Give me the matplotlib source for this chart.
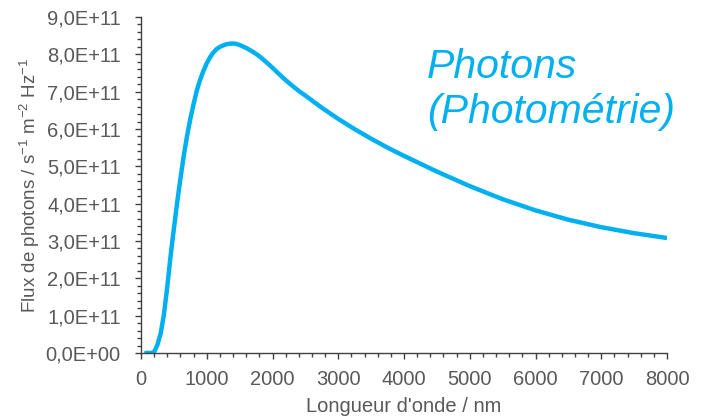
import matplotlib
matplotlib.use("Agg")
import matplotlib.pyplot as plt
from matplotlib.ticker import MultipleLocator, FuncFormatter

plt.rcParams["font.family"] = ["Liberation Sans", "DejaVu Sans"]
plt.rcParams["mathtext.fontset"] = "custom"
plt.rcParams["mathtext.rm"] = "Liberation Sans"

# Wavelength (nm) and photon flux (s^-1 m^-2 Hz^-1)
wavelength = [50, 100, 150, 200, 250, 300, 350, 400, 450, 500, 550, 600,
              650, 700, 750, 800, 850, 900, 950, 1000, 1050, 1100, 1150,
              1200, 1250, 1300, 1350, 1400, 1450, 1500, 1600, 1700, 1800,
              1900, 2000, 2100, 2200, 2300, 2400, 2500, 2750, 3000, 3250,
              3500, 3750, 4000, 4500, 5000, 5500, 6000, 6500, 7000, 7500,
              8000]
flux = [0.0, 0.0, 0.0, 0.03e11, 0.22e11, 0.53e11, 1.05e11, 1.78e11,
        2.6e11, 3.33e11, 4.03e11, 4.68e11, 5.28e11, 5.81e11, 6.27e11,
        6.67e11, 7.04e11, 7.32e11, 7.56e11, 7.76e11, 7.92e11, 8.05e11,
        8.14e11, 8.2e11, 8.24e11, 8.27e11, 8.285e11, 8.29e11, 8.28e11,
        8.25e11, 8.17e11, 8.07e11, 7.95e11, 7.8e11, 7.64e11, 7.47e11,
        7.31e11, 7.16e11, 7.02e11, 6.895e11, 6.57e11, 6.27e11, 5.995e11,
        5.74e11, 5.5e11, 5.28e11, 4.86e11, 4.47e11, 4.12e11, 3.82e11,
        3.57e11, 3.37e11, 3.21e11, 3.08e11]

blue = "#00B0F0"
grey = "#595959"
axis_col = "#404040"

fig = plt.figure(figsize=(7.06, 4.17), dpi=100)
ax = fig.add_axes([141 / 706, 1 - 353 / 417, 526 / 706, 336 / 417])

ax.plot(wavelength, flux, color=blue, lw=3.2, solid_capstyle="butt",
        solid_joinstyle="round")

ax.set_xlim(0, 8000)
ax.set_ylim(0, 9e11)
ax.xaxis.set_major_locator(MultipleLocator(1000))
ax.xaxis.set_minor_locator(MultipleLocator(200))
ax.yaxis.set_major_locator(MultipleLocator(1e11))
ax.yaxis.set_minor_locator(MultipleLocator(0.2e11))
ax.yaxis.set_major_formatter(
    FuncFormatter(lambda v, p: f"{v:.1E}".replace(".", ",")))

for side in ("top", "right"):
    ax.spines[side].set_visible(False)
for side in ("left", "bottom"):
    ax.spines[side].set_color(axis_col)
    ax.spines[side].set_linewidth(1.0)

ax.tick_params(which="major", length=4.5, width=1.0, color=axis_col,
               labelsize=14.5, labelcolor=grey)
ax.tick_params(which="minor", length=3.0, width=1.0, color=axis_col)
ax.tick_params(axis="y", which="major", pad=10)
ax.tick_params(axis="x", which="major", pad=8)

ax.set_xlabel("Longueur d'onde / nm", fontsize=14.5, color=grey)
ax.xaxis.set_label_coords(0.5, -0.132)
ax.set_ylabel(r"Flux de photons / s$^{-1}$ m$^{-2}$ Hz$^{-1}$",
              fontsize=13.5, color=grey, va="center")
ax.yaxis.set_label_coords(-0.211, 0.5)

fig.text(427 / 706, 1 - 78 / 417, "Photons", fontsize=29.5,
         style="italic", color=blue, ha="left", va="baseline")
fig.text(427 / 706, 1 - 123 / 417, "(Photométrie)", fontsize=29.5,
         style="italic", color=blue, ha="left", va="baseline")

fig.savefig("out.png", dpi=100)
